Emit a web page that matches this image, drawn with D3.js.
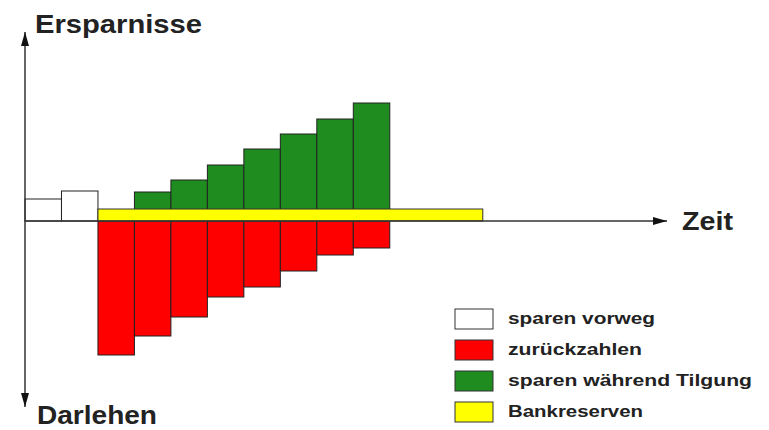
<!DOCTYPE html>
<html>
<head>
<meta charset="utf-8">
<script src="https://cdn.jsdelivr.net/npm/d3@7"></script>
<style>
  body { margin: 0; background: #fff; }
  text { font-family: "Liberation Sans", Arial, sans-serif; fill: #222; font-weight: bold; }
</style>
</head>
<body>
<script>
// periods are 1-based, each bar fills the slot [p-1, p]
var vorwegPeriods = [1, 2];
var vorwegValues = [22, 30];

var zurueckPeriods = [3, 4, 5, 6, 7, 8, 9, 10];
var zurueckValues = [-134, -115, -96, -76, -66, -50, -34, -27];

var tilgungPeriods = [4, 5, 6, 7, 8, 9, 10];
var tilgungValues = [29, 41, 56, 72, 87, 102, 118];

var reserveStart = 2;
var reserveEnd = 12.55;
var reserveValue = 12;

var legendLabels = ["sparen vorweg", "zurückzahlen", "sparen während Tilgung", "Bankreserven"];
var legendColors = ["#ffffff", "#ff0000", "#1f8c1f", "#ffff00"];

var width = 769;
var height = 430;

var svg = d3.select("body").append("svg")
  .attr("width", width)
  .attr("height", height);

var x = d3.scaleLinear().domain([0, 17.6]).range([25, 667]);
var y = d3.scaleLinear().domain([-186, 189]).range([407, 32]);

function toBars(periods, values) {
  return periods.map(function(p, i) { return {p: p, v: values[i]}; });
}

function drawBars(data, color) {
  svg.append("g").selectAll("rect")
    .data(data)
    .enter().append("rect")
    .attr("x", function(d) { return x(d.p - 1); })
    .attr("width", function(d) { return x(d.p) - x(d.p - 1); })
    .attr("y", function(d) { return y(Math.max(0, d.v)); })
    .attr("height", function(d) { return Math.abs(y(d.v) - y(0)); })
    .attr("fill", color)
    .attr("stroke", "#222")
    .attr("stroke-width", 1);
}

drawBars(toBars(vorwegPeriods, vorwegValues), legendColors[0]);
drawBars(toBars(tilgungPeriods, tilgungValues), legendColors[2]);
drawBars(toBars(zurueckPeriods, zurueckValues), legendColors[1]);

// Bankreserven strip on top of the axis
svg.append("rect")
  .attr("x", x(reserveStart))
  .attr("width", x(reserveEnd) - x(reserveStart))
  .attr("y", y(reserveValue))
  .attr("height", y(0) - y(reserveValue))
  .attr("fill", legendColors[3])
  .attr("stroke", "#333")
  .attr("stroke-width", 1);

// axes with arrow heads
var defs = svg.append("defs");
defs.append("marker")
  .attr("id", "arrow")
  .attr("viewBox", "0 0 14 8")
  .attr("refX", 14).attr("refY", 4)
  .attr("markerWidth", 14).attr("markerHeight", 8)
  .attr("markerUnits", "userSpaceOnUse")
  .attr("orient", "auto")
  .append("path")
  .attr("d", "M0,0 L14,4 L0,8 Z")
  .attr("fill", "#111");

svg.append("line")
  .attr("x1", x(0)).attr("x2", x(0))
  .attr("y1", y(0)).attr("y2", y.range()[1])
  .attr("stroke", "#333").attr("stroke-width", 1.5)
  .attr("marker-end", "url(#arrow)");
svg.append("line")
  .attr("x1", x(0)).attr("x2", x(0))
  .attr("y1", y(0)).attr("y2", y.range()[0])
  .attr("stroke", "#333").attr("stroke-width", 1.5)
  .attr("marker-end", "url(#arrow)");
svg.append("line")
  .attr("x1", x(0)).attr("x2", x.range()[1])
  .attr("y1", y(0)).attr("y2", y(0))
  .attr("stroke", "#333").attr("stroke-width", 1.5)
  .attr("marker-end", "url(#arrow)");

// axis titles
svg.append("text").attr("x", 35).attr("y", 33)
  .attr("font-size", 25).attr("textLength", 167).attr("lengthAdjust", "spacingAndGlyphs")
  .text("Ersparnisse");
svg.append("text").attr("x", 37).attr("y", 424)
  .attr("font-size", 25).attr("textLength", 120).attr("lengthAdjust", "spacingAndGlyphs")
  .text("Darlehen");
svg.append("text").attr("x", 682).attr("y", 230)
  .attr("font-size", 25).attr("textLength", 51).attr("lengthAdjust", "spacingAndGlyphs")
  .text("Zeit");

// legend
var legendWidths = [147, 134, 244, 135];
var legend = svg.append("g").selectAll("g")
  .data(legendLabels)
  .enter().append("g")
  .attr("transform", function(d, i) { return "translate(455," + (309 + i * 31) + ")"; });

legend.append("rect")
  .attr("width", 38).attr("height", 20)
  .attr("fill", function(d, i) { return legendColors[i]; })
  .attr("stroke", "#333").attr("stroke-width", 1);

legend.append("text")
  .attr("x", 53).attr("y", 15)
  .attr("font-size", 17)
  .attr("textLength", function(d, i) { return legendWidths[i]; })
  .attr("lengthAdjust", "spacingAndGlyphs")
  .text(function(d) { return d; });
</script>
</body>
</html>
